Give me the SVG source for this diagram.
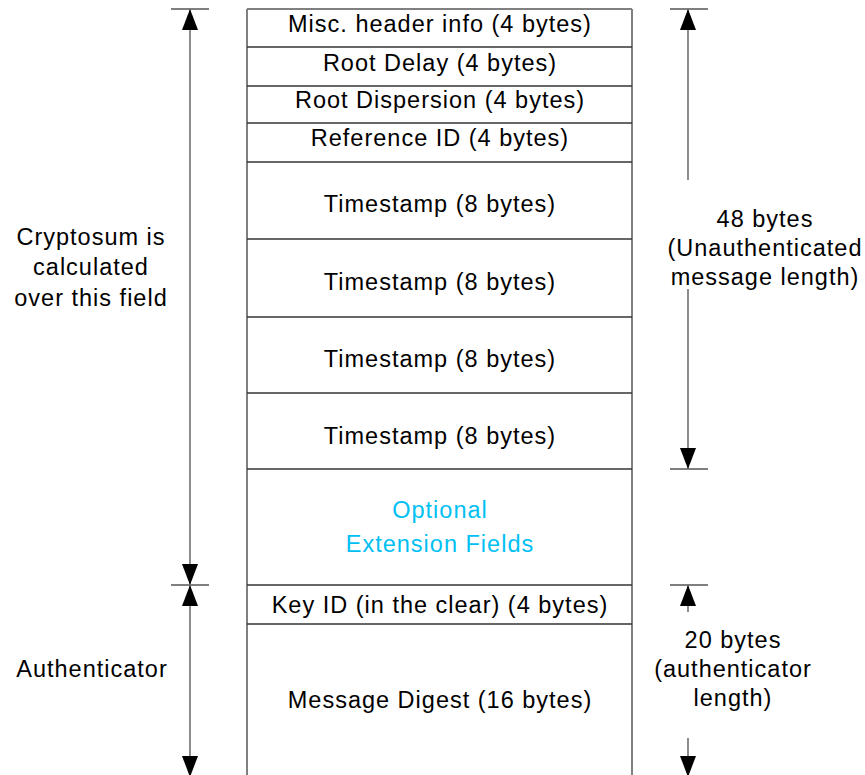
<svg xmlns="http://www.w3.org/2000/svg" width="865" height="775" viewBox="0 0 865 775">
<style>
text{font-family:"Liberation Sans",Arial,sans-serif;font-size:23.5px;letter-spacing:1px;fill:#000;text-anchor:middle}
.cy{fill:#00BFF3}
.edge{stroke:#808080;stroke-width:2;fill:none}
.row{stroke:#333;stroke-width:1.5}
.dim{stroke:#808080;stroke-width:1.8;fill:none}
.tick{stroke:#555;stroke-width:1.5}
</style>
<defs>
<marker id="ah" markerUnits="userSpaceOnUse" markerWidth="21" markerHeight="16" refX="21" refY="8" orient="auto-start-reverse" viewBox="0 0 21 16">
<path d="M0,0 L21,8 L0,16 z" fill="#000"/>
</marker>
</defs>
<rect width="865" height="775" fill="#fff"/>
<g id="packet">
<line class="edge" x1="247" y1="9" x2="632" y2="9"/>
<line class="edge" x1="247" y1="9" x2="247" y2="775"/>
<line class="edge" x1="632" y1="9" x2="632" y2="775"/>
</g>
<g id="misc"><line class="row" x1="247" y1="47" x2="632" y2="47"/><text x="440" y="32">Misc. header info (4 bytes)</text></g>
<g id="rootdelay"><line class="row" x1="247" y1="86" x2="632" y2="86"/><text x="440" y="71">Root Delay (4 bytes)</text></g>
<g id="rootdisp"><line class="row" x1="247" y1="123" x2="632" y2="123"/><text x="440" y="108">Root Dispersion (4 bytes)</text></g>
<g id="refid"><line class="row" x1="247" y1="162" x2="632" y2="162"/><text x="440" y="146">Reference ID (4 bytes)</text></g>
<g id="ts1"><line class="row" x1="247" y1="239" x2="632" y2="239"/><text x="440" y="212">Timestamp (8 bytes)</text></g>
<g id="ts2"><line class="row" x1="247" y1="317" x2="632" y2="317"/><text x="440" y="290">Timestamp (8 bytes)</text></g>
<g id="ts3"><line class="row" x1="247" y1="393" x2="632" y2="393"/><text x="440" y="367">Timestamp (8 bytes)</text></g>
<g id="ts4"><line class="row" x1="247" y1="469" x2="632" y2="469"/><text x="440" y="444">Timestamp (8 bytes)</text></g>
<g id="ext"><line class="row" x1="247" y1="585" x2="632" y2="585"/><text class="cy" x="440" y="518">Optional</text><text class="cy" x="440" y="552">Extension Fields</text></g>
<g id="keyid"><line class="row" x1="247" y1="624" x2="632" y2="624"/><text x="440" y="613">Key ID (in the clear) (4 bytes)</text></g>
<g id="digest"><text x="440" y="708">Message Digest (16 bytes)</text></g>
<g id="labels">
<text x="91" y="245">Cryptosum is</text>
<text x="91" y="275">calculated</text>
<text x="91" y="306">over this field</text>
<text x="92" y="677">Authenticator</text>
<text x="765" y="227">48 bytes</text>
<text x="765" y="256">(Unauthenticated</text>
<text x="765" y="285">message length)</text>
<text x="733" y="648">20 bytes</text>
<text x="733" y="677">(authenticator</text>
<text x="733" y="706">length)</text>
</g>
<g id="connectors">
<line class="tick" x1="171" y1="9" x2="209" y2="9"/>
<line class="tick" x1="171" y1="585" x2="209" y2="585"/>
<line class="tick" x1="670" y1="9" x2="708" y2="9"/>
<line class="tick" x1="670" y1="469" x2="708" y2="469"/>
<line class="tick" x1="670" y1="585" x2="708" y2="585"/>
<line class="dim" x1="190" y1="9" x2="190" y2="585" marker-start="url(#ah)" marker-end="url(#ah)"/>
<line class="dim" x1="190" y1="585" x2="190" y2="777" marker-start="url(#ah)" marker-end="url(#ah)"/>
<line class="dim" x1="688" y1="9" x2="688" y2="180" marker-start="url(#ah)"/>
<line class="dim" x1="688" y1="289" x2="688" y2="469" marker-end="url(#ah)"/>
<line class="dim" x1="688" y1="585" x2="688" y2="612" marker-start="url(#ah)"/>
<line class="dim" x1="688" y1="738" x2="688" y2="777" marker-end="url(#ah)"/>
</g>
</svg>
